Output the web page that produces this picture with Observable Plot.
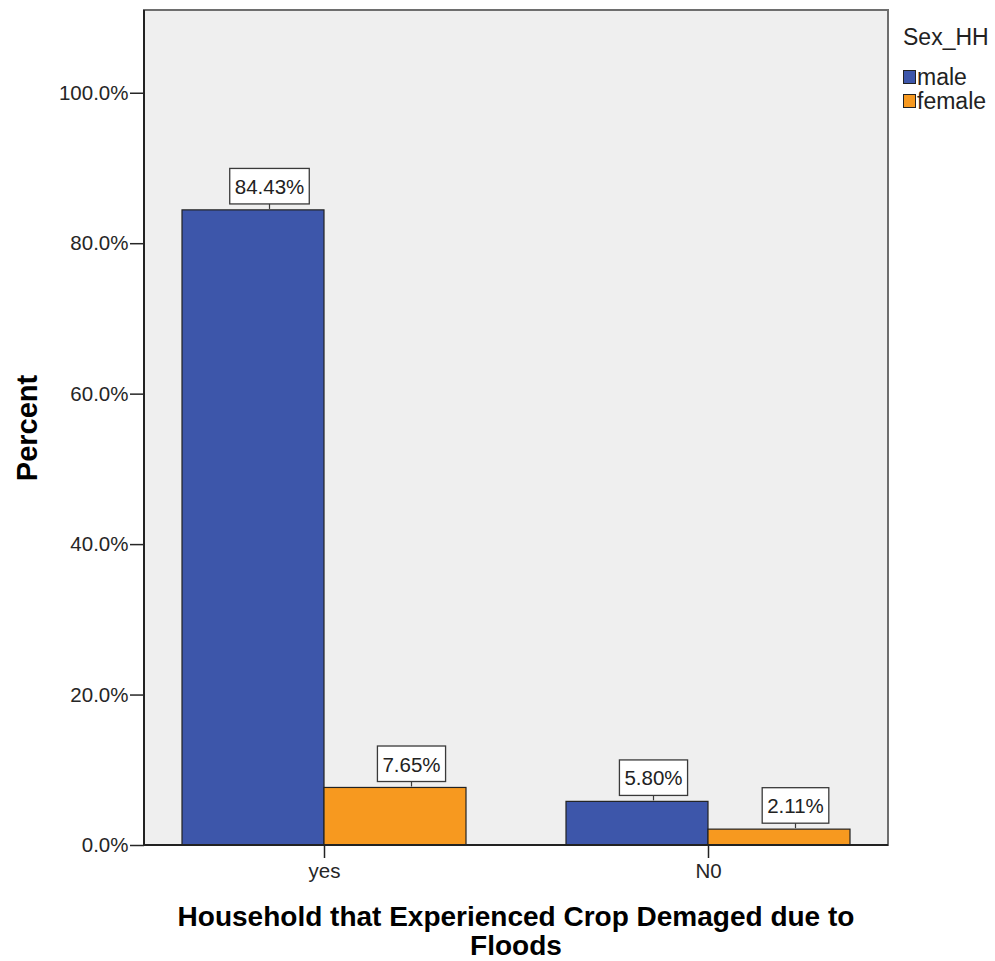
<!DOCTYPE html>
<html>
<head>
<meta charset="utf-8">
<script src="https://cdn.jsdelivr.net/npm/d3@7"></script>
<script src="https://cdn.jsdelivr.net/npm/@observablehq/plot@0.6"></script>
<style>
  html, body { margin: 0; padding: 0; background: #fff; }
  #chart { position: relative; width: 995px; height: 961px; font-family: "Liberation Sans", Arial, sans-serif; }
  #chart svg { position: absolute; left: 0; top: 0; }
  #xtitle { position: absolute; left: 100px; width: 832px; top: 903px; text-align: center;
            font-weight: bold; font-size: 28px; line-height: 28.5px; color: #000; }
  #legend { position: absolute; left: 903px; top: 0; color: #222; font-size: 23px; line-height: 24px; }
  #legend .ttl { position: absolute; top: 25px; left: 0; white-space: nowrap; }
  #legend .row { position: absolute; left: 0; height: 24px; display: flex; align-items: center; white-space: nowrap; }
  #legend .sw { width: 13px; height: 14px; border: 1px solid #222; margin-right: 1px; box-sizing: border-box; }
</style>
</head>
<body>
<div id="chart"></div>
<script>
// Crop damage due to floods, percent of households by sex of household head
const categories = ["yes", "N0"];
const sexes = ["male", "female"];
const maleValues = [84.43, 5.80];
const femaleValues = [7.65, 2.11];
const yTicks = [0, 20, 40, 60, 80, 100];
const colors = ["#3d56aa", "#f7991f"];

const data = [];
categories.forEach((c, i) => {
  data.push({cat: c, sex: "male", pct: maleValues[i]});
  data.push({cat: c, sex: "female", pct: femaleValues[i]});
});

const W = 995, H = 961;
const M = {left: 144, right: 107, top: 10, bottom: 116};

const plot = Plot.plot({
  width: W,
  height: H,
  marginLeft: M.left,
  marginRight: M.right,
  marginTop: M.top,
  marginBottom: M.bottom,
  style: {fontFamily: "Liberation Sans, Arial, sans-serif", fontSize: "20.5px", color: "#262626", background: "transparent"},
  fx: {domain: categories, paddingInner: 0.26, paddingOuter: 0.097},
  x: {domain: sexes, padding: 0, axis: null},
  y: {domain: [0, 111], ticks: yTicks, tickFormat: d => d.toFixed(1) + "%", tickSize: 14, tickPadding: 2,
      label: "Percent", labelAnchor: "center", labelOffset: 128, labelArrow: "none"},
  color: {domain: sexes, range: colors},
  marks: [
    Plot.barY(data, {fx: "cat", x: "sex", y: "pct", fill: "sex", stroke: "#222", strokeWidth: 1.2}),
    Plot.axisFx({anchor: "bottom", tickSize: 13, tickPadding: 5, label: null, stroke: "#222", strokeWidth: 1.5}),
    Plot.text(data, {fx: "cat", x: "sex", y: "pct", text: d => d.pct.toFixed(2) + "%",
      dy: -23, dx: 16, fontSize: 20.5, fill: "#222"})
  ]
});

const chart = document.getElementById("chart");
chart.appendChild(plot);

const svg = d3.select(plot);
const origin = plot.getBoundingClientRect();

// the y axis sits against the plot frame, not against the first facet
const yTick = svg.select('g[aria-label="y-axis tick"]').node();
if (yTick) {
  const shift = M.left - (yTick.getBoundingClientRect().right - origin.left);
  svg.selectAll('g[aria-label^="y-axis"]').each(function () {
    const t = this.getAttribute("transform") || "";
    this.setAttribute("transform", `translate(${shift},0) ${t}`);
  });
  svg.selectAll('g[aria-label="y-axis tick"]').attr("stroke", "#222").attr("stroke-width", 1.5);
}

// plot background and border
const pw = W - M.left - M.right, ph = H - M.top - M.bottom;
const bg = svg.insert("g", ":first-child");
bg.append("rect").attr("x", M.left).attr("y", M.top).attr("width", pw).attr("height", ph)
  .attr("fill", "#efefef").attr("stroke", "#6e6e6e").attr("stroke-width", 2);
bg.append("line").attr("x1", M.left).attr("x2", M.left).attr("y1", M.top).attr("y2", M.top + ph)
  .attr("stroke", "#222").attr("stroke-width", 2);

// baseline on top of bars
svg.append("line").attr("x1", M.left).attr("x2", M.left + pw).attr("y1", M.top + ph).attr("y2", M.top + ph)
  .attr("stroke", "#222").attr("stroke-width", 2);

// boxes behind the value labels, with a short leader down to the bar
const boxes = svg.append("g");
const labelGroups = svg.selectAll('g[aria-label="text"]');
labelGroups.selectAll("text").each(function () {
  const r = this.getBoundingClientRect();
  const x0 = r.left - origin.left - 5, y0 = r.top - origin.top - 6.5;
  const bw = r.width + 10, bh = r.height + 12.5;
  boxes.append("rect").attr("x", x0).attr("y", y0).attr("width", bw).attr("height", bh)
    .attr("fill", "#fff").attr("stroke", "#3a3a3a").attr("stroke-width", 1.3);
  boxes.append("line").attr("x1", x0 + bw / 2).attr("x2", x0 + bw / 2)
    .attr("y1", y0 + bh).attr("y2", y0 + bh + 5).attr("stroke", "#3a3a3a").attr("stroke-width", 1.2);
});
labelGroups.each(function () { plot.appendChild(this); });

svg.selectAll('g[aria-label="y-axis label"] text').style("font-weight", "bold").style("font-size", "29px").attr("fill", "#000");

// x title
const xt = document.createElement("div");
xt.id = "xtitle";
xt.innerHTML = "Household that Experienced Crop Demaged due to<br>Floods";
chart.appendChild(xt);

// legend
const lg = document.createElement("div");
lg.id = "legend";
lg.innerHTML = '<div class="ttl">Sex_HH</div>' + sexes.map((s, i) =>
  `<div class="row" style="top:${65 + 24 * i}px"><span class="sw" style="background:${colors[i]}"></span>${s}</div>`).join("");
chart.appendChild(lg);
</script>
</body>
</html>
